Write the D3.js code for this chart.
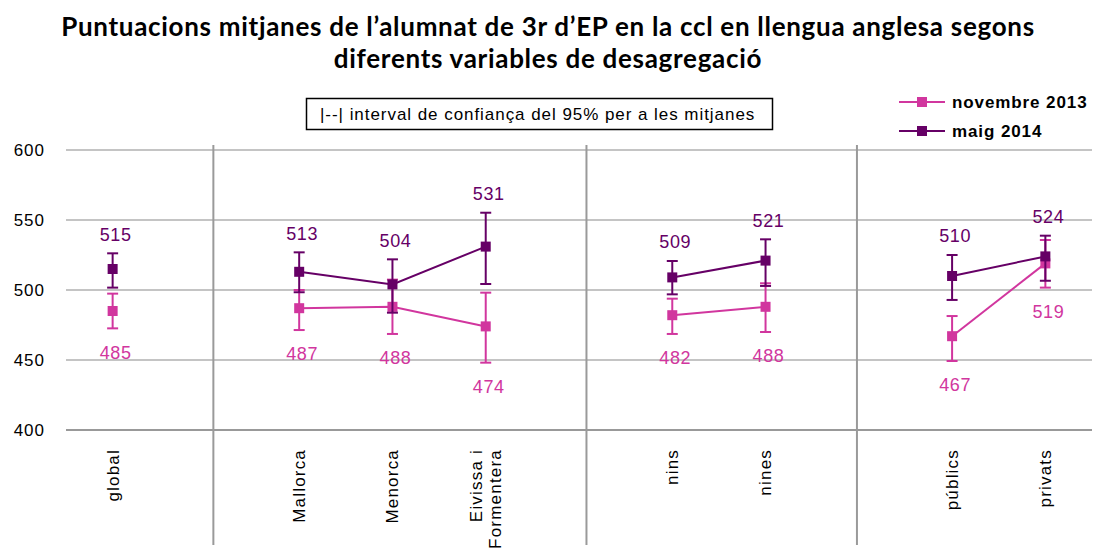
<!DOCTYPE html>
<html>
<head>
<meta charset="utf-8">
<script src="https://cdn.jsdelivr.net/npm/d3@7"></script>
<style>
  body { margin: 0; background: #fff; }
  text { font-family: "Liberation Sans", Arial, sans-serif; }
</style>
</head>
<body>
<div id="chart"></div>
<script>
// categories ("" = empty slot between groups), "|" splits a label over two lines
const categories = ["global", "", "Mallorca", "Menorca", "Eivissa i|Formentera", "", "nins", "nines", "", "públics", "privats"];
const lineGroup = [0, null, 1, 1, 1, null, 2, 2, null, 3, 3];

// novembre 2013
const novMean = [485, null, 487, 488, 474, null, 482, 488, null, 467, 519];
const novLow  = [472.6, null, 471.4, 468.6, 448.1, null, 468.6, 470, null, 449.3, 501.7];
const novHigh = [497.4, null, 500, 507.4, 498.1, null, 493.8, 504.8, null, 481.4, 535.7];

// maig 2014
const maigMean = [515, null, 513, 504, 531, null, 509, 521, null, 510, 524];
const maigLow  = [501.7, null, 498.4, 483.8, 504.3, null, 496.9, 502.9, null, 492.9, 506.6];
const maigHigh = [526.2, null, 526.9, 521.9, 555.2, null, 520.7, 536.2, null, 525, 538.8];

const yTicks = [400, 450, 500, 550, 600];
const separators = [1.08, 5.08, 7.98]; // in category units

const svgWidth = 1096;
const svgHeight = 550;
const margin = { top: 150, right: 4, bottom: 120, left: 66 };
const width = svgWidth - margin.left - margin.right;
const height = svgHeight - margin.top - margin.bottom;

const series = [
  { name: "novembre 2013", color: "#d1369e", mean: novMean, low: novLow, high: novHigh, labelDy: 24 },
  { name: "maig 2014", color: "#660066", mean: maigMean, low: maigLow, high: maigHigh, labelDy: -19 }
];

const svg = d3.select("#chart")
  .append("svg")
  .attr("width", svgWidth)
  .attr("height", svgHeight);

// title
const title = svg.append("text")
  .attr("x", 548)
  .attr("text-anchor", "middle")
  .style("font-family", "Lato, 'Open Sans', sans-serif")
  .style("font-weight", "bold")
  .style("font-size", "26px")
  .style("letter-spacing", "0.7px")
  .attr("fill", "#000");
title.append("tspan").attr("x", 548).attr("y", 36)
  .text("Puntuacions mitjanes de l\u2019alumnat de 3r d\u2019EP en la ccl en llengua anglesa segons");
title.append("tspan").attr("x", 548).attr("y", 68)
  .text("diferents variables de desagregació");

const chartGroup = svg.append("g")
  .attr("transform", `translate(${margin.left}, ${margin.top})`);

const x = d3.scaleLinear()
  .domain([-0.5, categories.length - 0.5])
  .range([0, width]);

const y = d3.scaleLinear()
  .domain([400, 600])
  .range([height, 0]);

// gridlines
chartGroup.append("g")
  .selectAll("line")
  .data(yTicks.filter(d => d !== 400))
  .enter()
  .append("line")
  .attr("x1", 0)
  .attr("x2", width)
  .attr("y1", d => y(d))
  .attr("y2", d => y(d))
  .attr("stroke", "#c4c4c4")
  .attr("stroke-width", 2);

// x axis line
chartGroup.append("line")
  .attr("x1", 0).attr("x2", width)
  .attr("y1", y(400)).attr("y2", y(400))
  .attr("stroke", "#999")
  .attr("stroke-width", 2);

// group separators
chartGroup.append("g")
  .selectAll("line")
  .data(separators)
  .enter()
  .append("line")
  .attr("x1", d => x(d))
  .attr("x2", d => x(d))
  .attr("y1", -5)
  .attr("y2", height + 115)
  .attr("stroke", "#9a9a9a")
  .attr("stroke-width", 2);

// y axis labels
const leftAxis = d3.axisLeft(y).tickValues(yTicks).tickSize(0).tickPadding(21);
const yAxis = chartGroup.append("g").call(leftAxis);
yAxis.select(".domain").remove();
yAxis.selectAll("text")
  .style("font-family", "'Liberation Sans', Arial, sans-serif")
  .style("font-size", "17px")
  .style("letter-spacing", "1px")
  .attr("fill", "#000");

// x category labels (rotated)
const xLabels = chartGroup.append("g")
  .selectAll("text")
  .data(categories.map((c, i) => ({ c, i })).filter(d => d.c !== ""))
  .enter()
  .append("text")
  .attr("transform", d => `translate(${x(d.i)}, ${height + 19}) rotate(-90)`)
  .attr("text-anchor", "end")
  .style("font-size", "17px")
  .style("letter-spacing", "1.2px")
  .attr("fill", "#000");

xLabels.each(function(d) {
  const parts = d.c.split("|");
  const t = d3.select(this);
  parts.forEach((p, k) => {
    t.append("tspan")
      .attr("x", 0)
      .attr("dy", k === 0 ? (parts.length > 1 ? "-0.2em" : "0.35em") : "1.1em")
      .text(p);
  });
});

// series
series.forEach(s => {
  const g = chartGroup.append("g");
  const pts = s.mean.map((v, i) => ({ i, v, lo: s.low[i], hi: s.high[i], grp: lineGroup[i] }))
    .filter(d => d.v !== null);

  // connecting lines per group
  const line = d3.line().x(d => x(d.i)).y(d => y(d.v));
  const byGroup = d3.groups(pts, d => d.grp).map(d => d[1]).filter(d => d.length > 1);
  g.selectAll("path.line")
    .data(byGroup)
    .enter()
    .append("path")
    .attr("class", "line")
    .attr("d", line)
    .attr("fill", "none")
    .attr("stroke", s.color)
    .attr("stroke-width", 2);

  // error bars
  const eb = g.selectAll("g.eb")
    .data(pts)
    .enter()
    .append("g")
    .attr("class", "eb");
  eb.append("line")
    .attr("x1", d => x(d.i)).attr("x2", d => x(d.i))
    .attr("y1", d => y(d.hi)).attr("y2", d => y(d.lo))
    .attr("stroke", s.color).attr("stroke-width", 2);
  eb.append("line")
    .attr("x1", d => x(d.i) - 5.5).attr("x2", d => x(d.i) + 5.5)
    .attr("y1", d => y(d.hi)).attr("y2", d => y(d.hi))
    .attr("stroke", s.color).attr("stroke-width", 2);
  eb.append("line")
    .attr("x1", d => x(d.i) - 5.5).attr("x2", d => x(d.i) + 5.5)
    .attr("y1", d => y(d.lo)).attr("y2", d => y(d.lo))
    .attr("stroke", s.color).attr("stroke-width", 2);

  // markers
  g.selectAll("rect")
    .data(pts)
    .enter()
    .append("rect")
    .attr("x", d => x(d.i) - 5)
    .attr("y", d => y(d.v) - 5)
    .attr("width", 10)
    .attr("height", 10)
    .attr("fill", s.color);

  // value labels
  g.selectAll("text")
    .data(pts)
    .enter()
    .append("text")
    .attr("x", d => x(d.i) + 3)
    .attr("y", d => (s.labelDy < 0 ? y(d.hi) : y(d.lo)) + s.labelDy)
    .attr("dy", "0.35em")
    .attr("text-anchor", "middle")
    .style("font-size", "18px")
    .style("letter-spacing", "0.6px")
    .attr("fill", s.color)
    .text(d => d3.format("d")(d.v));
});

// confidence interval note
svg.append("rect")
  .attr("x", 306.5).attr("y", 98.5)
  .attr("width", 466).attr("height", 31)
  .attr("fill", "#fff")
  .attr("stroke", "#000")
  .attr("stroke-width", 1.5);
svg.append("text")
  .attr("x", 320).attr("y", 120)
  .style("font-size", "17px")
  .style("letter-spacing", "0.95px")
  .attr("fill", "#000")
  .text("|--|  interval de confiança del 95% per a les mitjanes");

// legend
const legend = svg.append("g")
  .selectAll("g")
  .data(series)
  .enter()
  .append("g")
  .attr("transform", (d, i) => `translate(899, ${102 + i * 29})`);
legend.append("line")
  .attr("x1", 0).attr("x2", 46)
  .attr("stroke", d => d.color).attr("stroke-width", 2);
legend.append("rect")
  .attr("x", 18).attr("y", -5).attr("width", 10).attr("height", 10)
  .attr("fill", d => d.color);
legend.append("text")
  .attr("x", 53).attr("dy", "0.35em")
  .style("font-size", "17px")
  .style("font-weight", "bold")
  .style("letter-spacing", "0.9px")
  .attr("fill", "#000")
  .text(d => d.name);
</script>
</body>
</html>
